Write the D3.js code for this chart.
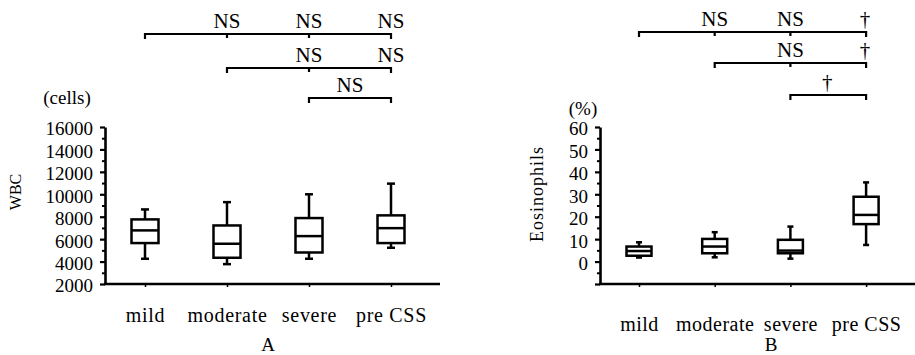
<!DOCTYPE html>
<html>
<head>
<meta charset="utf-8">
<script src="https://cdn.jsdelivr.net/npm/d3@7"></script>
<style>
  html, body { margin: 0; padding: 0; background: #fff; }
  svg { display: block; }
</style>
</head>
<body>
<script>
// Groups on the x axis (shared by both panels)
const categories = ["mild", "moderate", "severe", "pre CSS"];

// Panel A: white blood cell count (cells)
const wbcMin    = [4250, 3770, 4250, 5230];
const wbcQ1     = [5650, 4340, 4810, 5650];
const wbcMedian = [6780, 5590, 6270, 6980];
const wbcQ3     = [7760, 7220, 7880, 8120];
const wbcMax    = [8650, 9300, 10000, 10950];
const wbcTicks  = [2000, 4000, 6000, 8000, 10000, 12000, 14000, 16000];
const wbcMinorTicks = [3000, 5000, 7000, 9000, 11000, 13000, 15000];

// Panel B: eosinophils (%)
const eosMin    = [1.8, 1.9, 1.3, 7.4];
const eosQ1     = [2.6, 3.7, 3.7, 16.7];
const eosMedian = [4.7, 6.7, 4.9, 20.8];
const eosQ3     = [6.7, 10.1, 9.7, 28.9];
const eosMax    = [8.6, 13.1, 15.6, 35.3];
const eosTicks  = [-10, 0, 10, 20, 30, 40, 50, 60];
const eosTickLabels = ["", "0", "10", "20", "30", "40", "50", "60"];
const eosMinorTicks = [-5, 5, 15, 25, 35, 45, 55];

// Pairwise comparisons: bracket from -> to, with the result printed at a group (or between two)
const wbcComparisons = [
  { from: "mild",     to: "pre CSS", results: [["moderate", "NS"], ["severe", "NS"], ["pre CSS", "NS"]] },
  { from: "moderate", to: "pre CSS", results: [["severe", "NS"], ["pre CSS", "NS"]] },
  { from: "severe",   to: "pre CSS", results: [[null, "NS"]] }
];
const eosComparisons = [
  { from: "mild",     to: "pre CSS", results: [["moderate", "NS"], ["severe", "NS"], ["pre CSS", "†"]] },
  { from: "moderate", to: "pre CSS", results: [["severe", "NS"], ["pre CSS", "†"]] },
  { from: "severe",   to: "pre CSS", results: [[null, "†"]] }
];

const W = 915, H = 355;
const FONT = "Liberation Serif, DejaVu Serif, serif";
const svg = d3.select("body").append("svg").attr("width", W).attr("height", H)
  .attr("font-family", FONT);

// every text node gets the serif face explicitly
function serif(sel, size) {
  return sel.attr("font-family", FONT).style("font-family", FONT).attr("font-size", size).attr("fill", "#000");
}

function drawPanel(cfg) {
  const g = svg.append("g");
  const y = d3.scaleLinear().domain(cfg.domain).range([cfg.yBottom, cfg.yTop]);
  const x = d3.scalePoint().domain(categories)
    .range([cfg.x0 + cfg.firstOffset, cfg.x0 + cfg.firstOffset + cfg.step * (categories.length - 1)]);

  // minor ticks on the y axis
  g.append("g")
    .attr("transform", `translate(${cfg.x0},0)`)
    .call(d3.axisLeft(y).tickValues(cfg.minor).tickSize(3).tickFormat(""))
    .call(s => s.select(".domain").remove())
    .call(s => s.selectAll("line").attr("stroke", "#000").attr("stroke-width", 2));

  // major ticks and labels
  const yAxis = g.append("g")
    .attr("transform", `translate(${cfg.x0},0)`)
    .call(d3.axisLeft(y).tickValues(cfg.ticks).tickSize(5).tickSizeOuter(0).tickPadding(7)
      .tickFormat(cfg.tickFormat));
  yAxis.attr("font-family", FONT);
  yAxis.select(".domain").attr("stroke", "#000").attr("stroke-width", 2.6);
  yAxis.selectAll(".tick line").attr("stroke", "#000").attr("stroke-width", 2.2);
  serif(yAxis.selectAll(".tick text"), 19).attr("dy", "0.42em");

  // x baseline
  g.append("line")
    .attr("x1", cfg.x0 - 1).attr("x2", cfg.x1)
    .attr("y1", cfg.yBottom).attr("y2", cfg.yBottom)
    .attr("stroke", "#000").attr("stroke-width", 2.6);

  // x ticks and category labels
  const xAxis = g.append("g")
    .attr("transform", `translate(0,${cfg.yBottom})`)
    .call(d3.axisBottom(x).tickSize(3).tickPadding(cfg.labelPad));
  xAxis.attr("font-family", FONT);
  xAxis.select(".domain").remove();
  xAxis.selectAll(".tick line").attr("stroke", "#000").attr("stroke-width", 1.5);
  serif(xAxis.selectAll(".tick text"), 20).attr("letter-spacing", cfg.labelSpacing);

  // box plots
  const rows = categories.map((c, i) => ({
    c, min: cfg.min[i], q1: cfg.q1[i], med: cfg.median[i], q3: cfg.q3[i], max: cfg.max[i]
  }));
  const box = g.append("g").selectAll("g").data(rows).join("g")
    .attr("stroke", "#000").attr("fill", "none").attr("stroke-width", 2.5);
  const bw = cfg.boxWidth, cw = cfg.capWidth;
  box.append("line").attr("x1", d => x(d.c)).attr("x2", d => x(d.c))
    .attr("y1", d => y(d.max)).attr("y2", d => y(d.q3));
  box.append("line").attr("x1", d => x(d.c)).attr("x2", d => x(d.c))
    .attr("y1", d => y(d.q1)).attr("y2", d => y(d.min));
  box.append("line").attr("x1", d => x(d.c) - cw / 2).attr("x2", d => x(d.c) + cw / 2)
    .attr("y1", d => y(d.max)).attr("y2", d => y(d.max));
  box.append("line").attr("x1", d => x(d.c) - cw / 2).attr("x2", d => x(d.c) + cw / 2)
    .attr("y1", d => y(d.min)).attr("y2", d => y(d.min));
  box.append("rect")
    .attr("x", d => x(d.c) - bw / 2).attr("width", bw)
    .attr("y", d => y(d.q3)).attr("height", d => y(d.q1) - y(d.q3))
    .attr("fill", "#fff");
  box.append("line").attr("x1", d => x(d.c) - bw / 2).attr("x2", d => x(d.c) + bw / 2)
    .attr("y1", d => y(d.med)).attr("y2", d => y(d.med));

  // comparison brackets
  cfg.comparisons.forEach((cmp, k) => {
    const yb = cfg.bracketRows[k];
    const i0 = categories.indexOf(cmp.from), i1 = categories.indexOf(cmp.to);
    const inner = categories.slice(i0 + 1, i1);
    g.append("path")
      .attr("d", `M${x(cmp.from)},${yb + 5}V${yb}H${x(cmp.to)}V${yb + 5}` +
        inner.map(c => `M${x(c)},${yb}V${yb + 4}`).join(""))
      .attr("fill", "none").attr("stroke", "#000").attr("stroke-width", 2.2);
    cmp.results.forEach(([at, label]) => {
      const cx = at === null ? (x(cmp.from) + x(cmp.to)) / 2 : x(at);
      serif(g.append("text"), 21)
        .attr("x", cx + (label === "†" ? -1 : 0)).attr("y", yb - 6)
        .attr("text-anchor", "middle")
        .text(label);
    });
  });

  // unit and axis titles
  serif(g.append("text"), 19).attr("x", cfg.unitX).attr("y", cfg.unitY)
    .attr("text-anchor", "middle").text(cfg.unit);
  serif(g.append("text"), cfg.titleSize)
    .attr("transform", `translate(${cfg.titleX},${cfg.titleY}) rotate(-90)`)
    .attr("text-anchor", "middle")
    .attr("letter-spacing", cfg.titleSpacing)
    .text(cfg.title);
  serif(g.append("text"), 19).attr("x", cfg.letterX).attr("y", 351)
    .attr("text-anchor", "middle").text(cfg.letter);
}

drawPanel({
  x0: 105, x1: 440, yTop: 127, yBottom: 284, firstOffset: 40, step: 82,
  domain: [2000, 16000], ticks: wbcTicks, minor: wbcMinorTicks,
  tickFormat: d3.format("d"),
  min: wbcMin, q1: wbcQ1, median: wbcMedian, q3: wbcQ3, max: wbcMax,
  boxWidth: 27, capWidth: 8, labelPad: 21, labelSpacing: 0.7,
  comparisons: wbcComparisons, bracketRows: [34, 68, 98],
  unit: "(cells)", unitX: 67, unitY: 104,
  title: "WBC", titleX: 21, titleY: 192, titleSize: 16, titleSpacing: 0,
  letter: "A", letterX: 268
});

drawPanel({
  x0: 600, x1: 915, yTop: 127, yBottom: 284, firstOffset: 39, step: 75.7,
  domain: [-10, 60], ticks: eosTicks, minor: eosMinorTicks,
  tickFormat: (d, i) => eosTickLabels[i],
  min: eosMin, q1: eosQ1, median: eosMedian, q3: eosQ3, max: eosMax,
  boxWidth: 25, capWidth: 6, labelPad: 30, labelSpacing: 0.5,
  comparisons: eosComparisons, bracketRows: [32, 63, 95],
  unit: "(%)", unitX: 583, unitY: 115,
  title: "Eosinophils", titleX: 543, titleY: 194, titleSize: 18, titleSpacing: 1,
  letter: "B", letterX: 771
});
</script>
</body>
</html>
